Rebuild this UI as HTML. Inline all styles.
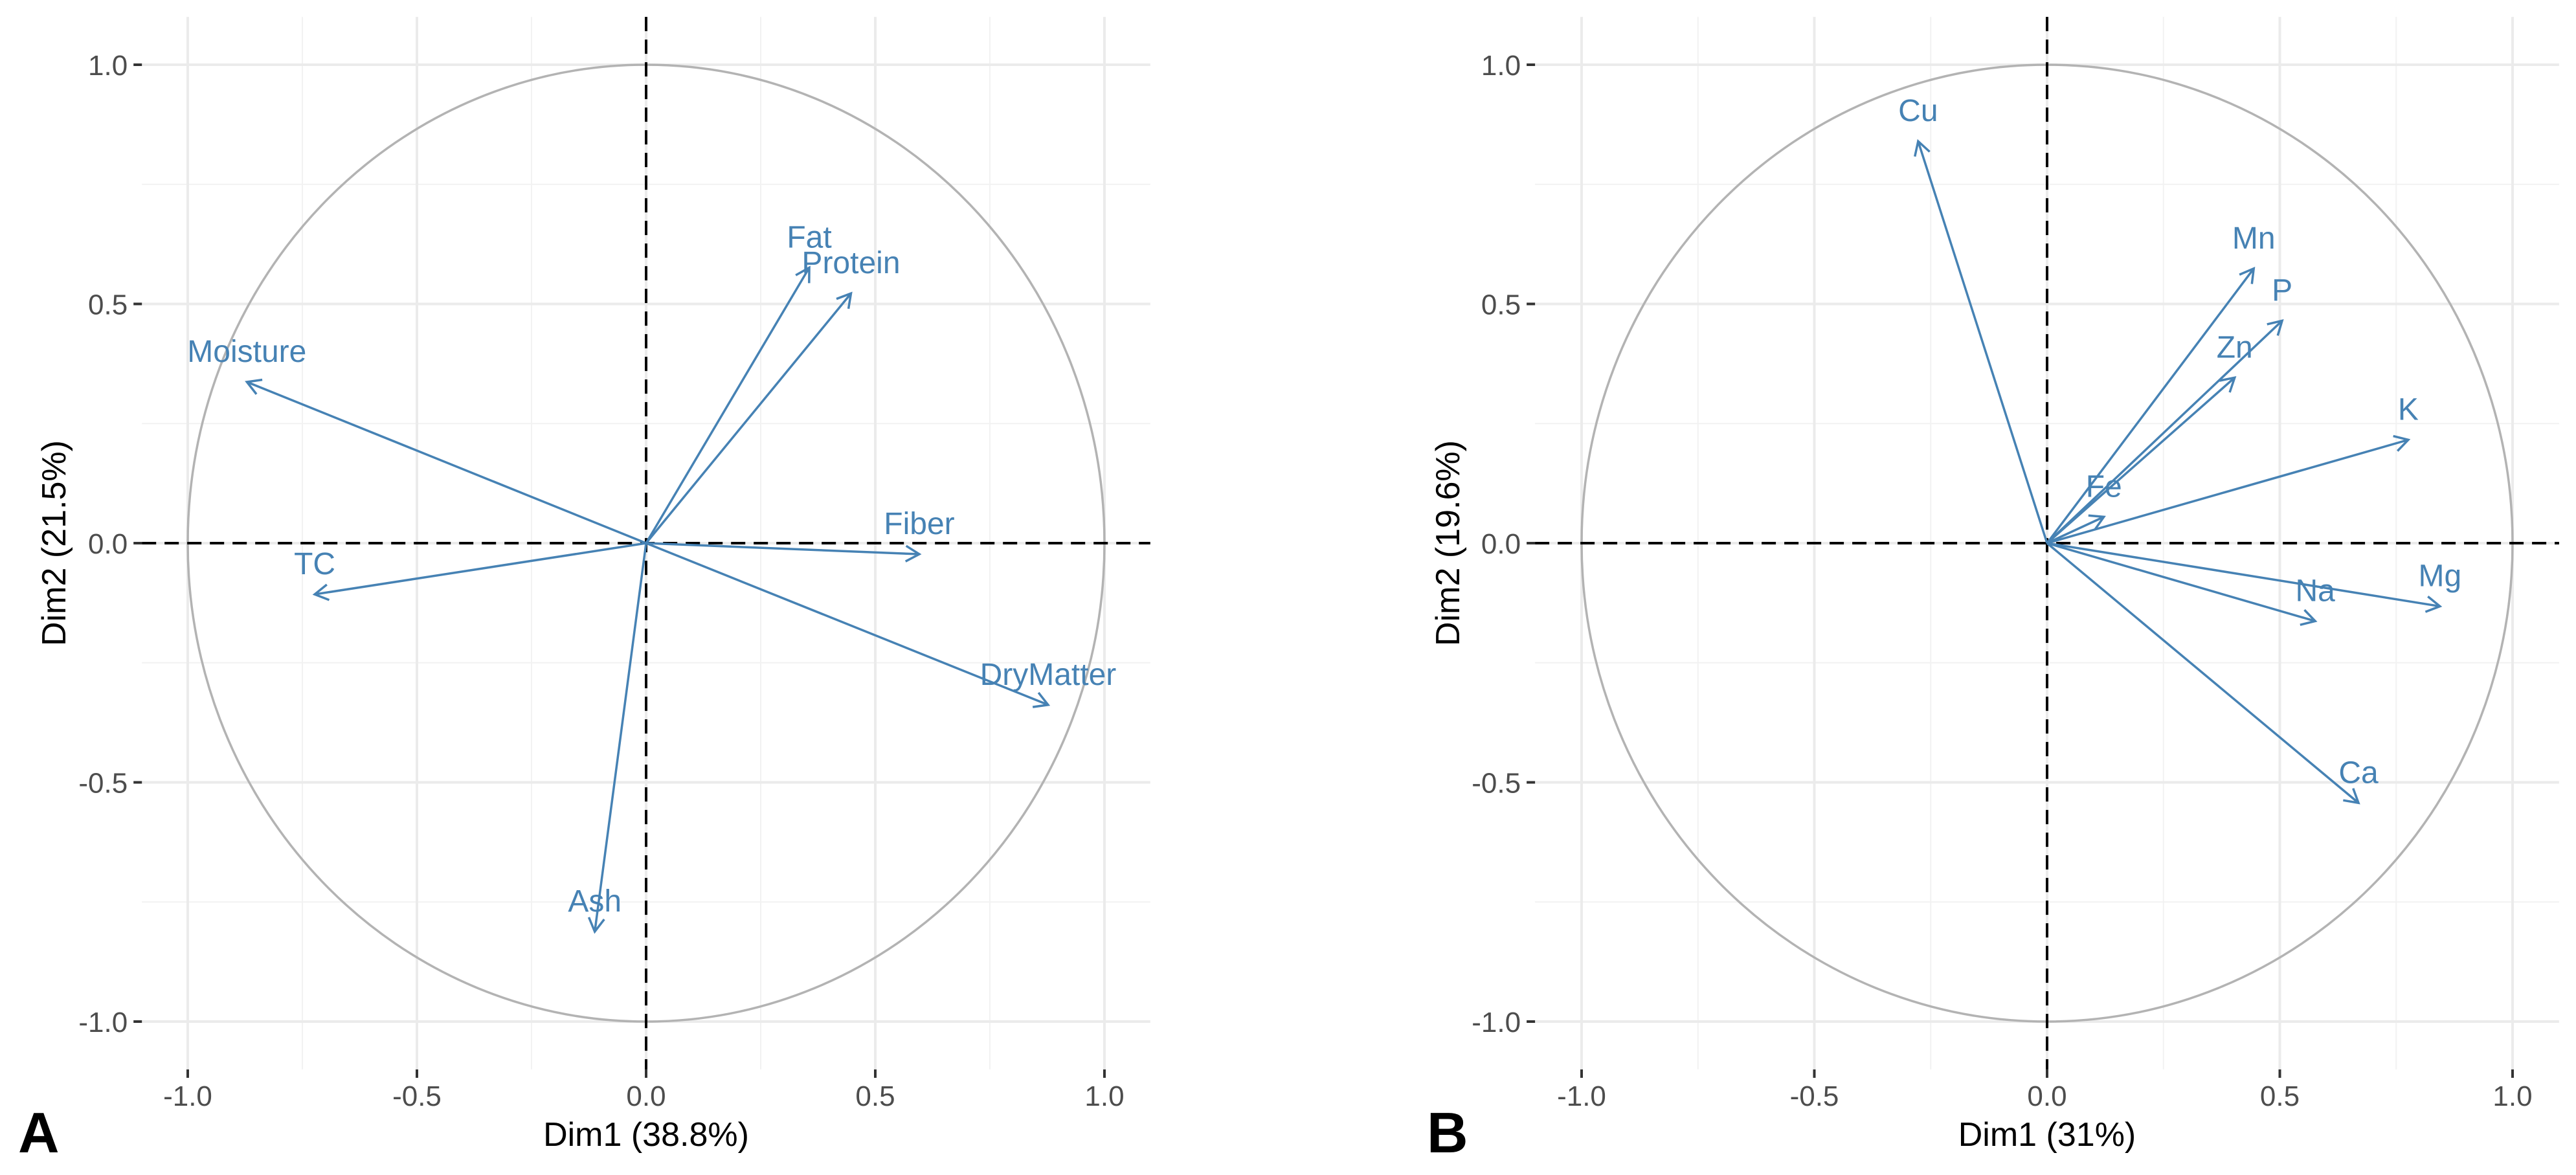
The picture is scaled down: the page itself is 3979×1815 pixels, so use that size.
<!DOCTYPE html>
<html><head><meta charset="utf-8"><style>
html,body{margin:0;padding:0;background:#fff;}
svg{display:block;font-family:"Liberation Sans",Arial,sans-serif;}
</style></head><body>
<svg id="fig" width="3979" height="1815" viewBox="0 0 3979 1815" xmlns="http://www.w3.org/2000/svg"></svg>
<script>
// Panel A data
const namesA = ["Moisture","TC","Fat","Protein","Fiber","DryMatter","Ash"];
const dim1A = [-0.871,-0.723,0.356,0.447,0.596,0.877,-0.112];
const dim2A = [0.337,-0.107,0.576,0.522,-0.023,-0.338,-0.812];
// Panel B data
const namesB = ["Cu","Mn","P","Zn","K","Fe","Na","Mg","Ca"];
const dim1B = [-0.277,0.444,0.505,0.403,0.776,0.122,0.576,0.844,0.669];
const dim2B = [0.840,0.574,0.465,0.346,0.216,0.055,-0.163,-0.132,-0.543];
const ticks = [-1.0,-0.5,0.0,0.5,1.0];
const tickLabels = ["-1.0","-0.5","0.0","0.5","1.0"];
const minorTicks = [-0.75,-0.25,0.25,0.75];

const NS="http://www.w3.org/2000/svg";
const svg=document.getElementById('fig');
function mk(tag,attrs,parent){const e=document.createElementNS(NS,tag);for(const k in attrs)e.setAttribute(k,attrs[k]);(parent||svg).appendChild(e);return e;}

function panel(cfg){
  const g=mk('g',{});
  
  
  const sx=v=>cfg.x0+v*cfg.ux, sy=v=>cfg.y0-v*cfg.uy;
  const L=sx(-1.1),R=sx(1.1),T=sy(1.1),B=sy(-1.1);
  // minor grid
  minorTicks.forEach(t=>{
    const l1=mk('line',{x1:sx(t),x2:sx(t),y1:T,y2:B,stroke:'#f2f2f2','stroke-width':2},g);
    
    
    const l2=mk('line',{x1:L,x2:R,y1:sy(t),y2:sy(t),stroke:'#f2f2f2','stroke-width':2},g);
    
    
  });
  ticks.forEach((t,i)=>{
    const l1=mk('line',{x1:sx(t),x2:sx(t),y1:T,y2:B,stroke:'#ebebeb','stroke-width':4},g);
    
    
    const l2=mk('line',{x1:L,x2:R,y1:sy(t),y2:sy(t),stroke:'#ebebeb','stroke-width':4},g);
    
    
    // ticks
    const tx=mk('line',{x1:sx(t),x2:sx(t),y1:B,y2:B+13,stroke:'#333','stroke-width':4},g);
    
    
    const ty=mk('line',{x1:L-13,x2:L,y1:sy(t),y2:sy(t),stroke:'#333','stroke-width':4},g);
    
    
    const xl=mk('text',{x:sx(t),y:B+56,'text-anchor':'middle','font-size':44,fill:'#4d4d4d'},g);
    xl.textContent=tickLabels[i];
    
    
    const yl=mk('text',{x:L-22,y:sy(t)+16,'text-anchor':'end','font-size':44,fill:'#4d4d4d'},g);
    yl.textContent=tickLabels[i];
    
    
  });
  // correlation circle
  const c=mk('ellipse',{cx:sx(0),cy:sy(0),rx:cfg.ux,ry:cfg.uy,fill:'none',stroke:'#b3b3b3','stroke-width':3.5},g);
  
  
  // dashed axes
  const h=mk('line',{x1:L,x2:R,y1:sy(0),y2:sy(0),stroke:'#000','stroke-width':4,'stroke-dasharray':'22 13'},g);
  
  
  const v=mk('line',{x1:sx(0),x2:sx(0),y1:T,y2:B,stroke:'#000','stroke-width':4,'stroke-dasharray':'22 13'},g);
  
  
  // arrows
  cfg.names.forEach((n,i)=>{
    const x=sx(cfg.d1[i]),y=sy(cfg.d2[i]),ox=sx(0),oy=sy(0);
    const ang=Math.atan2(y-oy,x-ox),al=24,aa=Math.PI/6;
    const p=`M${ox},${oy} L${x},${y} M${x-al*Math.cos(ang-aa)},${y-al*Math.sin(ang-aa)} L${x},${y} L${x-al*Math.cos(ang+aa)},${y-al*Math.sin(ang+aa)}`;
    const a=mk('path',{d:p,fill:'none',stroke:'#4682B4','stroke-width':3.5,'stroke-linejoin':'miter'},g);
    
    
    const t=mk('text',{x:x,y:y-31,'text-anchor':'middle','font-size':48,fill:'#4682B4'},g);
    t.textContent=n;
    
    
  });
  const xt=mk('text',{x:sx(0),y:1770,'text-anchor':'middle','font-size':52,fill:'#000'},g);
  xt.textContent=cfg.xtitle;
  
  
  const yt=mk('text',{x:0,y:0,'text-anchor':'middle','font-size':52,fill:'#000',transform:`translate(${cfg.ytx},${sy(0)}) rotate(-90)`},g);
  yt.textContent=cfg.ytitle;
  
  
  const tag=mk('text',{x:cfg.tagx,y:1780,'font-size':88,'font-weight':'bold',fill:'#000'},g);
  tag.textContent=cfg.tag;
  
  
}
panel({id:'a',x0:998,y0:839,ux:708,uy:739,names:namesA,d1:dim1A,d2:dim2A,xtitle:'Dim1 (38.8%)',ytitle:'Dim2 (21.5%)',ytx:101,tagx:28,tag:'A'});
panel({id:'b',x0:3162,y0:839,ux:719,uy:739,names:namesB,d1:dim1B,d2:dim2B,xtitle:'Dim1 (31%)',ytitle:'Dim2 (19.6%)',ytx:2254,tagx:2204,tag:'B'});
</script>
</body></html>
